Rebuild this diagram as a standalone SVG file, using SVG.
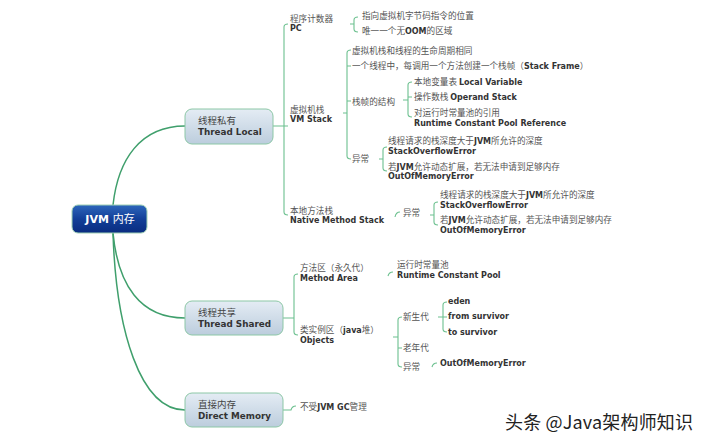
<svg xmlns="http://www.w3.org/2000/svg" width="707" height="444" viewBox="0 0 707 444">
<defs>
<linearGradient id="gRoot" x1="0" y1="0" x2="0" y2="1">
<stop offset="0" stop-color="#2d66bb"/><stop offset="0.5" stop-color="#123f98"/><stop offset="1" stop-color="#0a2c80"/>
</linearGradient>
<linearGradient id="gMain" x1="0" y1="0" x2="0" y2="1">
<stop offset="0" stop-color="#e4ecf4"/><stop offset="1" stop-color="#bccddd"/>
</linearGradient>
<style>
.zh{font-family:"Noto Sans CJK SC","Noto Sans",sans-serif;font-size:8.6px;fill:#555}
.en{font-family:"DejaVu Sans",Verdana,sans-serif;font-weight:bold;font-size:8px;fill:#333}
.b{font-family:"DejaVu Sans",Verdana,sans-serif;font-weight:bold;font-size:8px;fill:#333}
.bz{font-family:"Noto Sans CJK SC","Noto Sans",sans-serif;font-size:9.5px;fill:#444}
.be{font-family:"DejaVu Sans",Verdana,sans-serif;font-weight:bold;font-size:8.8px;fill:#333}
.curve{fill:none;stroke:#3f9f6c;stroke-width:1.5}
.br{fill:none;stroke:#6cc08f;stroke-width:1.1}
.box{fill:url(#gMain);stroke:#8cc7a6;stroke-width:1}
</style>
</defs>
<rect width="707" height="444" fill="#ffffff"/>

<g id="connectors">
<path class="curve" d="M113,205 C118,160 140,126 185,126"/>
<path class="curve" d="M113,233 C118,285 140,318 185,318"/>
<path class="curve" d="M113,233 C116,330 140,410 185,410"/>
<!-- thread local -->
<path class="br" d="M273,126 H288 M288,24 Q284,24 284,27 V212 Q284,215 288,215"/>
<path class="br" d="M350,24 H354 M358,17 Q354,17 354,20 V29 Q354,32 358,32"/>
<path class="br" d="M343,113 H347 M351,50 Q347,50 347,53 V156 Q347,159 351,159 M347,66 H351 M347,101 H351"/>
<path class="br" d="M403,100 H408 M412,82 Q408,82 408,85 V114 Q408,117 412,117 M408,97 H412"/>
<path class="br" d="M379,159 H383 M387,147 Q383,147 383,150 V168 Q383,171 387,171"/>
<path class="br" d="M395,217 Q396,212 400,212"/>
<path class="br" d="M430,215 H434 M438,202 Q434,202 434,205 V222 Q434,225 438,225"/>
<!-- shared -->
<path class="br" d="M283,318 H294 M298,274 Q294,274 294,277 V332 Q294,335 298,335"/>
<path class="br" d="M388,276 Q389,272 393,272"/>
<path class="br" d="M393,337 H398 M402,317 Q398,317 398,320 V364 Q398,367 402,367 M398,348 H402"/>
<path class="br" d="M438,317 H443 M447,302 Q443,302 443,305 V329 Q443,332 447,332 M443,317 H447"/>
<path class="br" d="M432,367 Q433,363 437,363"/>
<!-- direct -->
<path class="br" d="M283,410 H291 Q292,406 296,406"/>
</g>

<g id="root">
<rect x="72" y="205" width="75" height="28" rx="6" fill="url(#gRoot)" stroke="#9fd0b4" stroke-width="1"/>
<text x="110" y="223" text-anchor="middle" style="font-family:'DejaVu Sans','Noto Sans CJK SC',sans-serif;font-weight:bold;font-size:11px;fill:#fff">JVM <tspan style="font-family:'Noto Sans CJK SC',sans-serif;font-weight:normal">内存</tspan></text>
</g>

<g id="thread-local">
<rect class="box" x="185" y="109" width="88" height="35" rx="7"/>
<text class="bz" x="198" y="124">线程私有</text>
<text class="be" x="198" y="135">Thread Local</text>
</g>

<g id="pc">
<text class="zh" x="290" y="22">程序计数器</text>
<text class="en" x="290" y="31">PC</text>
<text class="zh" x="362" y="19">指向虚拟机字节码指令的位置</text>
<text class="zh" x="362" y="34">唯一一个无<tspan class="b">OOM</tspan>的区域</text>
</g>

<g id="vm-stack">
<text class="zh" x="290" y="113">虚拟机栈</text>
<text class="en" x="290" y="122">VM Stack</text>
<text class="zh" x="352" y="54">虚拟机栈和线程的生命周期相同</text>
<text class="zh" x="352" y="69">一个线程中，每调用一个方法创建一个栈帧（<tspan class="b">Stack Frame</tspan>）</text>
<text class="zh" x="352" y="105">栈帧的结构</text>
<text class="zh" x="414" y="85">本地变量表 <tspan class="b">Local Variable</tspan></text>
<text class="zh" x="414" y="100">操作数栈 <tspan class="b">Operand Stack</tspan></text>
<text class="zh" x="414" y="116">对运行时常量池的引用</text>
<text class="en" x="414" y="126">Runtime Constant Pool Reference</text>
<text class="zh" x="352" y="162">异常</text>
<text class="zh" x="388" y="144">线程请求的栈深度大于<tspan class="b">JVM</tspan>所允许的深度</text>
<text class="en" x="388" y="154">StackOverflowError</text>
<text class="zh" x="388" y="170">若<tspan class="b">JVM</tspan>允许动态扩展，若无法申请到足够内存</text>
<text class="en" x="388" y="179">OutOfMemoryError</text>
</g>

<g id="native-stack">
<text class="zh" x="290" y="214">本地方法栈</text>
<text class="en" x="290" y="223">Native Method Stack</text>
<text class="zh" x="403" y="216">异常</text>
<text class="zh" x="440" y="198">线程请求的栈深度大于<tspan class="b">JVM</tspan>所允许的深度</text>
<text class="en" x="440" y="208">StackOverflowError</text>
<text class="zh" x="440" y="223">若<tspan class="b">JVM</tspan>允许动态扩展，若无法申请到足够内存</text>
<text class="en" x="440" y="233">OutOfMemoryError</text>
</g>

<g id="thread-shared">
<rect class="box" x="185" y="301" width="98" height="34" rx="7"/>
<text class="bz" x="198" y="316">线程共享</text>
<text class="be" x="198" y="327">Thread Shared</text>
</g>

<g id="method-area">
<text class="zh" x="300" y="271">方法区（永久代）</text>
<text class="en" x="300" y="281">Method Area</text>
<text class="zh" x="397" y="268">运行时常量池</text>
<text class="en" x="397" y="278">Runtime Constant Pool</text>
</g>

<g id="objects">
<text class="zh" x="300" y="333">类实例区（<tspan class="b">java</tspan>堆）</text>
<text class="en" x="300" y="343">Objects</text>
<text class="zh" x="403" y="320">新生代</text>
<text class="zh" x="403" y="351">老年代</text>
<text class="zh" x="403" y="370">异常</text>
<text class="en" x="448" y="304">eden</text>
<text class="en" x="448" y="319">from survivor</text>
<text class="en" x="448" y="335">to survivor</text>
<text class="en" x="440" y="366">OutOfMemoryError</text>
</g>

<g id="direct-memory">
<rect class="box" x="185" y="393" width="98" height="34" rx="7"/>
<text class="bz" x="198" y="408">直接内存</text>
<text class="be" x="198" y="419">Direct Memory</text>
<text class="zh" x="300" y="410">不受<tspan class="b">JVM GC</tspan>管理</text>
</g>

<g id="watermark">
<text x="505" y="429" textLength="188" style="font-family:'Noto Sans CJK SC',sans-serif;font-size:18px;fill:#222">头条 @Java架构师知识</text>
</g>
</svg>
